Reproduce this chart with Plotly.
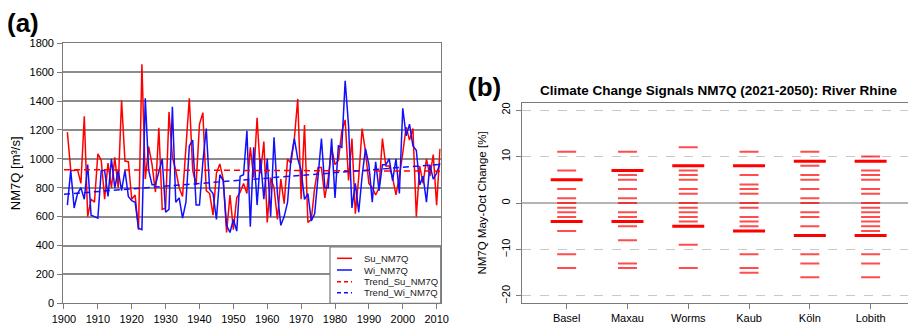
import plotly.graph_objects as go

# ---------------- data: panel (a) ----------------
years = list(range(1901, 2012))
su_nm7q = [1185, 920, 920, 925, 830, 1295, 600, 720, 700, 1035,
           990, 720, 970, 800, 1010, 800, 1405, 985, 980, 720,
           750, 510, 1655, 860, 1085, 960, 770, 1215, 650, 660,
           1325, 1010, 920, 800, 740, 1090, 1420, 920, 820, 1240,
           1320, 780, 760, 610, 900, 965, 860, 490, 750, 510,
           730, 770, 830, 760, 1080, 870, 1285, 900, 1120, 560,
           870, 800, 580, 860, 690, 1000, 970, 1140, 1415, 720,
           1235, 560, 580, 800, 940, 940, 730, 870, 1075, 960,
           990, 1190, 1270, 850, 1140, 620, 870, 1210, 1050, 830,
           800, 750, 800, 1140, 950, 950, 870, 750, 880, 1040,
           1220, 1130, 1210, 600, 950, 830, 1000, 880, 1030, 680,
           1070]
wi_nm7q = [680, 920, 660, 760, 800, 720, 960, 610, 600, 590,
           920, 920, 740, 1000, 800, 920, 780, 920, 740, 710,
           700, 520, 510, 1420, 920, 820, 820, 920, 1000, 630,
           650, 1360, 700, 730, 590, 700, 1090, 1130, 680, 680,
           980, 1210, 790, 760, 580, 890, 850, 540, 490, 580,
           500, 880, 890, 1195, 530, 1080, 680, 1000, 720, 1000,
           600, 1150, 760, 540, 600, 700, 1000, 1140, 1000, 920,
           720, 760, 570, 620, 900, 1140, 800, 800, 1140, 730,
           1090, 1080, 1540, 1230, 660, 830, 630, 880, 1070, 960,
           700, 980, 780, 960, 960, 1000, 850, 1000, 760, 1350,
           1160, 1240, 1090, 1060, 820, 880, 700, 960, 860, 900,
           970]
trend_years = [1900, 2011]
trend_su = [925, 915]
trend_wi = [755, 962]
series_names = ["Su_NM7Q", "Wi_NM7Q", "Trend_Su_NM7Q", "Trend_Wi_NM7Q"]

# ---------------- data: panel (b) ----------------
stations = ["Basel", "Maxau", "Worms", "Kaub", "Köln", "Lobith"]
signals_thin = {
    "Basel":  [11, 7, 3, 1, 0, -1, -2, -3, -6, -11, -14],
    "Maxau":  [11, 6, 5, 3, 1, 0, -2, -3, -5, -8, -13, -14],
    "Worms":  [12, 7, 6, 5, 3, 2, 0, -1, -2, -3, -4, -9, -14],
    "Kaub":   [11, 6, 4, 3, 2, 0, -1, -3, -4, -5, -11, -14, -15],
    "Köln":   [11, 8, 6, 5, 3, 1, 0, -2, -3, -5, -11, -13, -16],
    "Lobith": [10, 7, 6, 5, 3, 2, 0, -1, -2, -3, -4, -5, -6, -11, -13, -16],
}
signals_thick = {
    "Basel": [5, -4], "Maxau": [7, -4], "Worms": [8, -5],
    "Kaub": [8, -6], "Köln": [9, -7], "Lobith": [9, -7],
}
y_ticks_b = [-20, -10, 0, 10, 20]
x_ticks_a = list(range(1900, 2011, 10))
y_ticks_a = list(range(0, 1801, 200))

FONT = "Liberation Sans, Arial, sans-serif"
OFF = 8                      # page body margin of the html page
W, H = 916 - OFF, 325 - OFF  # figure size so it fits the window
RED = "#ff0000"
BLUE = "#1010ff"

fig = go.Figure()

# panel (a) lines
fig.add_trace(go.Scatter(x=years, y=su_nm7q, mode="lines", name=series_names[0],
                         line=dict(color=RED, width=1.5), xaxis="x", yaxis="y"))
fig.add_trace(go.Scatter(x=years, y=wi_nm7q, mode="lines", name=series_names[1],
                         line=dict(color=BLUE, width=1.5), xaxis="x", yaxis="y"))
fig.add_trace(go.Scatter(x=trend_years, y=trend_su, mode="lines", name=series_names[2],
                         line=dict(color=RED, width=1.5, dash="6px,4px"), xaxis="x", yaxis="y"))
fig.add_trace(go.Scatter(x=trend_years, y=trend_wi, mode="lines", name=series_names[3],
                         line=dict(color=BLUE, width=1.5, dash="6px,4px"), xaxis="x", yaxis="y"))

# panel (b) segments
thin_x, thin_y, thick_x, thick_y = [], [], [], []
for s in stations:
    for v in signals_thin[s]:
        thin_x.append(s); thin_y.append(v)
    for v in signals_thick[s]:
        thick_x.append(s); thick_y.append(v)
fig.add_trace(go.Scatter(x=thin_x, y=thin_y, mode="markers", xaxis="x2", yaxis="y2",
                         hoverinfo="x+y",
                         marker=dict(symbol="line-ew", size=19 / 1.4,
                                     line=dict(color="rgba(255,0,0,0.7)", width=2))))
fig.add_trace(go.Scatter(x=thick_x, y=thick_y, mode="markers", xaxis="x2", yaxis="y2",
                         hoverinfo="x+y",
                         marker=dict(symbol="line-ew", size=32 / 1.4,
                                     line=dict(color=RED, width=3))))


def px(x):
    return (x - OFF) / W


def py(y):
    return 1 - (y - OFF) / H


grid_a = "#8c8c8c"
frame = "#7a7a7a"

fig.update_layout(
    width=W, height=H, template="none",
    margin=dict(l=0, r=0, t=0, b=0),
    paper_bgcolor="white", plot_bgcolor="white",
    font=dict(family=FONT, size=11, color="black"),
    showlegend=False,
    xaxis=dict(domain=[px(63.3), px(440.7)], anchor="y", range=[1899.8, 2011.2],
               tickmode="array", tickvals=x_ticks_a, ticks="outside", ticklen=5,
               tickcolor=frame, showgrid=False, zeroline=False, showline=True,
               linecolor=frame, linewidth=1.2, mirror=True, automargin=False,
               tickfont=dict(size=11, family=FONT)),
    yaxis=dict(domain=[py(303.3), py(43.3)], anchor="x", range=[0, 1800],
               tickmode="array", tickvals=y_ticks_a, ticks="outside", ticklen=5,
               tickcolor=frame, showgrid=True, gridcolor=grid_a, gridwidth=1.5,
               zeroline=False, showline=True, linecolor=frame, linewidth=1.2,
               mirror=True, automargin=False, tickfont=dict(size=11, family=FONT),
               ticklabelstandoff=1,
               title=dict(text="NM7Q [m³/s]", font=dict(size=13, family=FONT), standoff=8)),
    xaxis2=dict(domain=[px(522), px(915)], anchor="y2", type="category",
                categoryorder="array", categoryarray=stations, range=[-0.735, 5.73],
                ticks="outside", ticklen=5, tickcolor=frame, showgrid=False,
                zeroline=False, showline=True, linecolor=frame, linewidth=1.2,
                mirror=True, automargin=False, tickfont=dict(size=11, family=FONT)),
    yaxis2=dict(domain=[py(302.7), py(103.3)], anchor="x2", range=[-21.45, 21.45],
                tickmode="array", tickvals=y_ticks_b, ticks="outside", ticklen=5,
                tickcolor=frame, tickangle=-90, showgrid=True, gridcolor="#c8c8c8",
                gridwidth=1, griddash="dash", zeroline=True, zerolinecolor="#b4b4b4",
                zerolinewidth=1.5, showline=True, linecolor=frame, linewidth=1.2,
                mirror=True, automargin=False, tickfont=dict(size=11, family=FONT),
                ticklabelstandoff=2,
                title=dict(text="NM7Q May-Oct Change [%]", font=dict(size=11.5, family=FONT),
                           standoff=10)),
)

annotations = [
    dict(text="<b>(a)</b>", x=px(22.5), y=py(6), xref="paper", yref="paper",
         xanchor="center", yanchor="top", showarrow=False, font=dict(size=26, family=FONT)),
    dict(text="<b>(b)</b>", x=px(484.5), y=py(70), xref="paper", yref="paper",
         xanchor="center", yanchor="top", showarrow=False, font=dict(size=26, family=FONT)),
    dict(text="<b>Climate Change Signals NM7Q (2021-2050): River Rhine</b>",
         x=px(718.5), y=py(91), xref="paper", yref="paper", xanchor="center",
         yanchor="middle", showarrow=False, font=dict(size=13.5, family=FONT)),
]

# legend box for panel (a)
shapes = [dict(type="rect", xref="paper", yref="paper", x0=px(330), x1=px(440.7),
               y0=py(303.3), y1=py(247), line=dict(color=frame, width=1.2),
               fillcolor="white", layer="above")]
leg_colors = [RED, BLUE, RED, BLUE]
leg_dash = ["solid", "solid", "4px,3px", "4px,3px"]
leg_rows = [258.3, 270, 281.7, 292.7]
for name, c, d, yy in zip(series_names, leg_colors, leg_dash, leg_rows):
    shapes.append(dict(type="line", xref="paper", yref="paper", x0=px(337), x1=px(352),
                       y0=py(yy), y1=py(yy), line=dict(color=c, width=1.5, dash=d),
                       layer="above"))
    annotations.append(dict(text=name, x=px(362), y=py(yy), xref="paper", yref="paper",
                            xanchor="left", yanchor="middle", showarrow=False,
                            font=dict(size=9.5, family=FONT, color="#222")))

fig.update_layout(annotations=annotations, shapes=shapes)
fig.write_html("out.html")
